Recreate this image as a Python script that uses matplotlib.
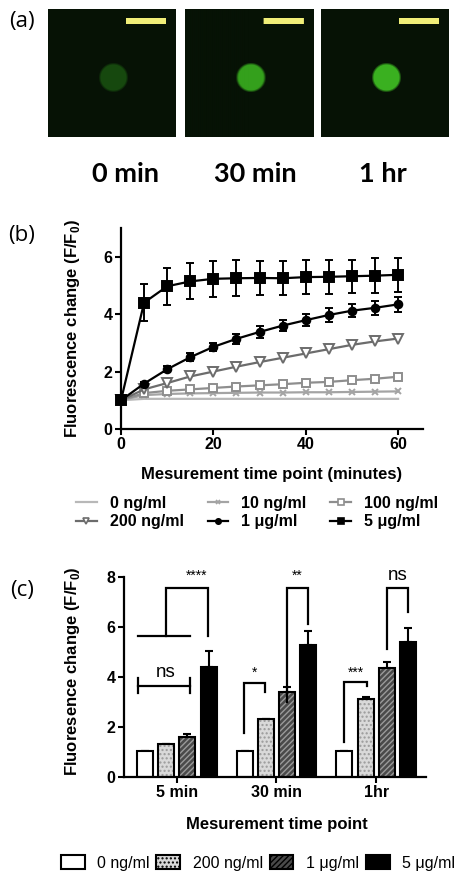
import numpy as np
import matplotlib
matplotlib.use('Agg')
import matplotlib.pyplot as plt
from matplotlib.patches import Patch
from matplotlib.lines import Line2D

plt.rcParams['font.family'] = ['Liberation Sans', 'DejaVu Sans']
plt.rcParams['mathtext.fontset'] = 'custom'
plt.rcParams['mathtext.rm'] = 'Liberation Sans'
plt.rcParams['mathtext.bf'] = 'Liberation Sans:bold'

# ---------------- data ----------------
# panel (a)
img_labels = ['0 min', '30 min', '1 hr']
img_disc_rgb = [(22, 72, 14), (52, 160, 28), (58, 176, 32)]

# panel (b)
t_min = [0, 5, 10, 15, 20, 25, 30, 35, 40, 45, 50, 55, 60]
b_labels = ['0 ng/ml', '10 ng/ml', '100 ng/ml', '200 ng/ml', '1 μg/ml', '5 μg/ml']
s_0 = [1.0, 1.05, 1.05, 1.05, 1.05, 1.05, 1.05, 1.05, 1.05, 1.05, 1.05, 1.05, 1.05]
s_10 = [1.0, 1.18, 1.22, 1.24, 1.25, 1.26, 1.27, 1.27, 1.28, 1.28, 1.29, 1.30, 1.31]
s_100 = [1.0, 1.25, 1.33, 1.38, 1.43, 1.48, 1.52, 1.56, 1.61, 1.64, 1.70, 1.75, 1.82]
s_200 = [1.0, 1.38, 1.60, 1.83, 2.00, 2.17, 2.33, 2.48, 2.63, 2.78, 2.93, 3.05, 3.15]
s_1ug = [1.0, 1.58, 2.08, 2.50, 2.86, 3.14, 3.38, 3.60, 3.79, 3.97, 4.12, 4.22, 4.34]
e_1ug = [0.0, 0.05, 0.10, 0.13, 0.15, 0.17, 0.20, 0.20, 0.22, 0.24, 0.22, 0.25, 0.26]
s_5ug = [1.0, 4.40, 4.97, 5.14, 5.23, 5.25, 5.26, 5.25, 5.29, 5.30, 5.32, 5.34, 5.37]
e_5ug = [0.0, 0.65, 0.64, 0.63, 0.62, 0.62, 0.60, 0.60, 0.58, 0.60, 0.58, 0.60, 0.60]
e_100 = [0.0, 0.02, 0.03, 0.03, 0.04, 0.04, 0.05, 0.05, 0.06, 0.06, 0.07, 0.08, 0.10]

# panel (c)
c_groups = ['5 min', '30 min', '1hr']
c_labels = ['0 ng/ml', '200 ng/ml', '1 μg/ml', '5 μg/ml']
c_vals = [[1.04, 1.04, 1.04],
          [1.33, 2.31, 3.13],
          [1.61, 3.40, 4.35],
          [4.40, 5.27, 5.40]]
c_errs = [[0.0, 0.0, 0.0],
          [0.0, 0.03, 0.07],
          [0.10, 0.20, 0.25],
          [0.64, 0.56, 0.55]]
# brackets: (label, x_left, x_right, y_left_foot, y_top, y_right_foot, label_y, label_size)
c_brackets = [('*', 0.675, 0.885, 1.75, 3.77, 3.39, 4.18, 10),
              ('**', 1.105, 1.32, 3.02, 7.56, 6.14, 8.05, 10),
              ('***', 1.675, 1.91, 1.41, 3.79, 3.63, 4.18, 10),
              ('ns', 2.105, 2.32, 5.11, 7.56, 6.59, 8.05, 13.5)]

W, H = 471, 896
fig = plt.figure(figsize=(W / 100, H / 100), dpi=100)


def ax_px(l, t, w, h):
    return fig.add_axes([l / W, 1 - (t + h) / H, w / W, h / H])


# ---------------- panel (a) ----------------
N = 128
yy, xx = np.mgrid[0:N, 0:N]
bg = np.array([6, 18, 5]) / 255.0
for lab, rgb, left, cx in zip(img_labels, img_disc_rgb, [48, 185, 321], [125, 255, 383]):
    ax = ax_px(left, 9, 128, 128)
    r = np.hypot(xx - 65, yy - 68)
    disc = np.clip((15.0 - r) / 2.5, 0, 1)[..., None]
    col = np.array(rgb) / 255.0
    img = bg + disc * (col - bg)
    img[9:15, 78:118] = np.array([240, 238, 120]) / 255.0
    ax.imshow(img, interpolation='bilinear')
    ax.set_axis_off()
    fig.text(cx / W, 1 - 174 / H, lab, ha='center', va='center',
             fontsize=19.5, fontweight='bold', family=['Lato', 'DejaVu Sans'])

for lab, (x, y) in zip(['(a)', '(b)', '(c)'], [(22, 22), (22, 235), (22, 590)]):
    fig.text(x / W, 1 - y / H, lab, ha='center', va='center', fontsize=16,
             family=['Open Sans', 'DejaVu Sans'])


def style_axes(ax):
    for s in ['top', 'right']:
        ax.spines[s].set_visible(False)
    for s in ['left', 'bottom']:
        ax.spines[s].set_linewidth(1.6)
    ax.tick_params(direction='out', length=4, width=1.5, labelsize=11.5, pad=2)
    for lbl in ax.get_xticklabels() + ax.get_yticklabels():
        lbl.set_fontweight('bold')


# ---------------- panel (b) ----------------
axb = ax_px(121, 228, 302, 201)
series = [s_0, s_10, s_100, s_200, s_1ug, s_5ug]
errs = [None, None, e_100, None, e_1ug, e_5ug]
colors = ['#b8b8b8', '#a4a4a4', '#8e8e8e', '#6c6c6c', 'black', 'black']
markers = ['', 'x', 's', 'v', 'o', 's']
mfcs = ['none', 'none', 'white', 'white', 'black', 'black']
msizes = [0, 5, 6, 6.5, 5.5, 6.5]
handles = []
for vals, er, c, m, mfc, ms, lab in zip(series, errs, colors, markers, mfcs, msizes, b_labels):
    axb.errorbar(t_min, vals, yerr=er, color=c, marker=m if m else None, mfc=mfc,
                 mec=c, ms=ms, mew=1.4, lw=1.6, capsize=3, elinewidth=1.4,
                 capthick=1.4, clip_on=False, zorder=3)
    handles.append(Line2D([], [], color=c, marker=m if m else None, mfc=mfc, mec=c,
                          ms=ms * 0.7, mew=1.2, lw=1.6))
axb.set_xlim(0, 65.4)
axb.set_ylim(0, 7)
axb.set_xticks([0, 20, 40, 60])
axb.set_yticks([0, 2, 4, 6])
style_axes(axb)
axb.set_xlabel('Mesurement time point (minutes)', fontsize=12, fontweight='bold')
axb.xaxis.set_label_coords(0.497, -0.19)
axb.set_ylabel(r'Fluorescence change (F/F$_\mathbf{0}$)', fontsize=12, fontweight='bold')
axb.yaxis.set_label_coords(-0.13, 0.5)

order = [0, 3, 1, 4, 2, 5]
legb = fig.legend([handles[i] for i in order], [b_labels[i] for i in order], ncol=3,
                  loc='center', bbox_to_anchor=(257 / W, 1 - 512.5 / H), frameon=False,
                  prop={'weight': 'bold', 'size': 11.5}, handlelength=1.3,
                  handletextpad=0.8, columnspacing=1.5, labelspacing=0.25)

# ---------------- panel (c) ----------------
axc = ax_px(124, 577, 302, 200)
offsets = [-0.32, -0.105, 0.105, 0.32]
width = 0.16
faces = ['white', '#d9d9d9', '#4a4a4a', 'black']
hatches = [None, '....', '//////', None]
hcolors = [None, '#9a9a9a', '#9a9a9a', None]
x = np.arange(len(c_groups))
chandles = []
for k in range(4):
    xs = x + offsets[k]
    axc.bar(xs, c_vals[k], width, color=faces[k], edgecolor=hcolors[k] or faces[k],
            hatch=hatches[k], linewidth=0, zorder=2)
    axc.bar(xs, c_vals[k], width, facecolor='none', edgecolor='black', linewidth=1.5,
            zorder=3)
    axc.errorbar(xs, c_vals[k], yerr=[np.zeros(3), c_errs[k]], fmt='none',
                 ecolor='black', elinewidth=1.5, capsize=3, capthick=1.5, zorder=1)
    chandles.append(Patch(facecolor=faces[k], edgecolor='black', hatch=hatches[k],
                          linewidth=1.5))
axc.set_xlim(-0.53, 2.5)
axc.set_ylim(0, 8)
axc.set_xticks(x)
axc.set_xticklabels(c_groups)
axc.set_yticks([0, 2, 4, 6, 8])
style_axes(axc)
axc.set_xlabel('Mesurement time point', fontsize=12, fontweight='bold')
axc.xaxis.set_label_coords(0.507, -0.2)
axc.set_ylabel(r'Fluoresence change (F/F$_\mathbf{0}$)', fontsize=12, fontweight='bold')
axc.yaxis.set_label_coords(-0.14, 0.53)

lw_b = 1.6
for lab, xl, xr, yl, yt, yr, ly, fs in c_brackets:
    axc.plot([xl, xl, xr, xr], [yl, yt, yt, yr], color='black', lw=lw_b,
             clip_on=False, solid_joinstyle='miter')
    axc.text((xl + xr) / 2, ly, lab, ha='center', va='center', fontsize=fs)

# 5 min: ns I-beam and **** bracket
axc.plot([-0.39, 0.13], [3.66, 3.66], color='black', lw=lw_b)
axc.plot([-0.39, -0.39], [3.37, 3.97], color='black', lw=lw_b)
axc.plot([0.13, 0.13], [3.37, 3.97], color='black', lw=lw_b)
axc.text(-0.11, 4.2, 'ns', ha='center', va='center', fontsize=13.5)
axc.plot([-0.39, 0.13], [5.64, 5.64], color='black', lw=lw_b)
axc.plot([-0.11, -0.11, 0.31, 0.31], [5.64, 7.56, 7.56, 5.66], color='black', lw=lw_b,
         solid_joinstyle='miter', clip_on=False)
axc.text(0.2, 8.05, '****', ha='center', va='center', fontsize=10)

fig.legend(chandles, c_labels, ncol=4, loc='center', bbox_to_anchor=(258 / W, 1 - 863 / H),
           frameon=False, prop={'size': 11.5}, handlelength=1.5, handleheight=0.9,
           handletextpad=0.8, columnspacing=0.4)

fig.savefig('out.png', dpi=100)
